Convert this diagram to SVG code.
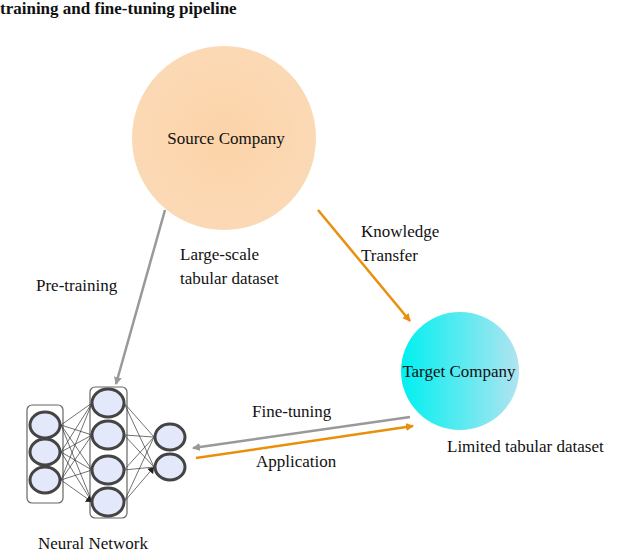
<svg xmlns="http://www.w3.org/2000/svg" width="640" height="555" viewBox="0 0 640 555" font-family="Liberation Serif, DejaVu Serif, Times New Roman, serif">
<style>
text{font-size:17px;fill:#111;font-family:"Liberation Serif","DejaVu Serif","Times New Roman",serif}
.c{fill:#e3e9fa;stroke:#444;stroke-width:3}
.b{fill:none;stroke:#666;stroke-width:1.2}
.w{stroke:#333;stroke-width:0.7}
</style>
<defs>
<radialGradient id="sg" cx="0.5" cy="0.5" r="0.5"><stop offset="0" stop-color="#fcd3a8"/><stop offset="1" stop-color="#fbd9b5"/></radialGradient>
<linearGradient id="tg" x1="0" x2="1"><stop offset="0" stop-color="#00f0f0"/><stop offset="1" stop-color="#b0e4f0"/></linearGradient>
<marker id="ag" markerWidth="8" markerHeight="8" refX="7" refY="4" orient="auto" markerUnits="userSpaceOnUse"><path d="M0,0L8,4L0,8z" fill="#999"/></marker>
<marker id="ao" markerWidth="8" markerHeight="8" refX="7" refY="4" orient="auto" markerUnits="userSpaceOnUse"><path d="M0,0L8,4L0,8z" fill="#e8900c"/></marker>
<marker id="an" markerWidth="6" markerHeight="8" refX="6" refY="4" orient="auto" markerUnits="userSpaceOnUse"><path d="M0,0L6,4L0,8z" fill="#222"/></marker>
</defs>
<text x="0" y="14" font-weight="bold">training and fine-tuning pipeline</text>
<g id="source"><circle cx="224" cy="138" r="92" fill="url(#sg)"/><text x="226" y="144" text-anchor="middle">Source Company</text></g>
<g id="target"><circle cx="460" cy="371" r="59" fill="url(#tg)"/><text x="459" y="377" text-anchor="middle">Target Company</text></g>
<g id="nn">
<rect class="b" x="27" y="405" width="36" height="98" rx="5"/>
<rect class="b" x="90" y="387" width="37" height="131" rx="5"/>
<g class="w">
<path d="M61,425L92,403M61,425L92,435M61,425L92,470M61,425L92,502M61,452L92,403M61,452L92,435M61,452L92,470M61,452L92,502M61,480L92,403M61,480L92,435M61,480L92,470M61,480L92,502" marker-end="url(#an)"/>
<path d="M124,403L154,437M124,403L154,467M124,435L154,437M124,435L154,467M124,470L154,437M124,470L154,467M124,502L154,437M124,502L154,467" marker-end="url(#an)"/>
</g>
<ellipse class="c" cx="45" cy="425" rx="15" ry="13"/>
<ellipse class="c" cx="45" cy="452" rx="15" ry="13"/>
<ellipse class="c" cx="45" cy="480" rx="15" ry="13"/>
<ellipse class="c" cx="108" cy="403" rx="16" ry="14"/>
<ellipse class="c" cx="108" cy="435" rx="16" ry="14"/>
<ellipse class="c" cx="108" cy="470" rx="16" ry="14"/>
<ellipse class="c" cx="108" cy="502" rx="16" ry="14"/>
<ellipse class="c" cx="170" cy="437" rx="15" ry="13"/>
<ellipse class="c" cx="170" cy="467" rx="15" ry="13"/>
<text x="93" y="549" text-anchor="middle">Neural Network</text>
</g>
<g id="connectors" stroke-width="2.5" fill="none">
<path d="M165,210L116,384" stroke="#999" marker-end="url(#ag)"/>
<path d="M318,210L410,321" stroke="#e8900c" marker-end="url(#ao)"/>
<path d="M410,417L193,448" stroke="#999" marker-end="url(#ag)"/>
<path d="M196,458L413,426" stroke="#e8900c" marker-end="url(#ao)"/>
</g>
<g id="labels">
<text x="36" y="291">Pre-training</text>
<text x="180" y="260">Large-scale</text>
<text x="180" y="284">tabular dataset</text>
<text x="361" y="237">Knowledge</text>
<text x="361" y="261">Transfer</text>
<text x="252" y="417">Fine-tuning</text>
<text x="256" y="467">Application</text>
<text x="447" y="452">Limited tabular dataset</text>
</g>
</svg>
